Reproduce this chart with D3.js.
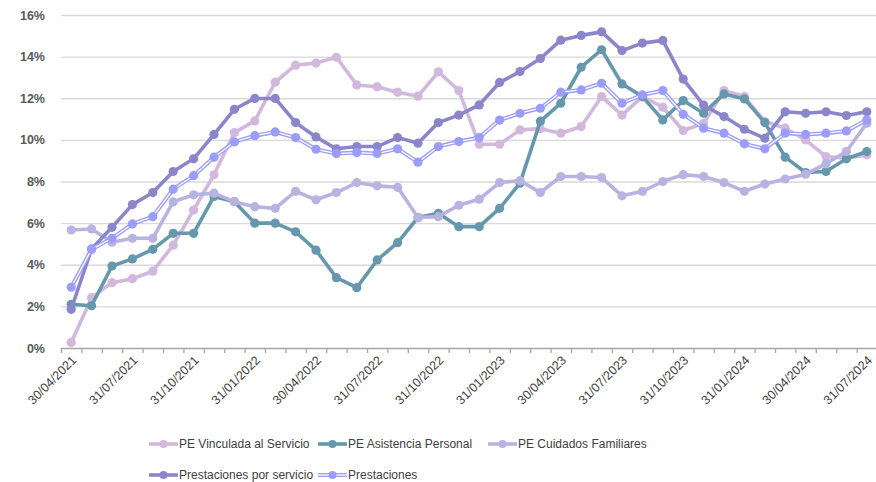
<!DOCTYPE html>
<html><head><meta charset="utf-8">
<script src="https://cdn.jsdelivr.net/npm/d3@7/dist/d3.min.js"></script>
<style>
html,body{margin:0;padding:0;background:#fff;}
svg{display:block;font-family:"Liberation Sans",Arial,sans-serif;}
</style></head>
<body><svg id="c" width="876" height="482"></svg>
<script>
const categories = ["30/04/2021","31/05/2021","30/06/2021","31/07/2021","31/08/2021","30/09/2021","31/10/2021","30/11/2021","31/12/2021",
"31/01/2022","28/02/2022","31/03/2022","30/04/2022","31/05/2022","30/06/2022","31/07/2022","31/08/2022","30/09/2022","31/10/2022","30/11/2022","31/12/2022",
"31/01/2023","28/02/2023","31/03/2023","30/04/2023","31/05/2023","30/06/2023","31/07/2023","31/08/2023","30/09/2023","31/10/2023","30/11/2023","31/12/2023",
"31/01/2024","29/02/2024","31/03/2024","30/04/2024","31/05/2024","30/06/2024","31/07/2024"];
const tickLabels = ["30/04/2021","31/07/2021","31/10/2021","31/01/2022","30/04/2022","31/07/2022","31/10/2022","31/01/2023","30/04/2023","31/07/2023","31/10/2023","31/01/2024","30/04/2024","31/07/2024"];
const yTicks = [0,2,4,6,8,10,12,14,16];

const peVinculada = [0.27,2.42,3.14,3.33,3.69,4.94,6.63,8.32,10.35,10.91,12.77,13.59,13.69,13.97,12.64,12.55,12.29,12.1,13.27,12.37,9.79,9.79,10.48,10.54,10.32,10.64,12.08,11.19,12.08,11.57,10.45,10.8,12.37,12.08,10.88,10.56,10.0,9.2,9.12,9.28];
const peAsistencia = [2.1,2.03,3.94,4.28,4.74,5.51,5.51,7.28,7.03,6.0,6.0,5.58,4.7,3.38,2.9,4.23,5.06,6.27,6.47,5.83,5.83,6.71,7.92,10.9,11.76,13.49,14.33,12.69,12.08,10.96,11.89,11.28,12.21,11.97,10.83,9.17,8.43,8.48,9.09,9.44];
const peCuidados = [5.67,5.72,5.08,5.27,5.27,7.02,7.36,7.44,7.03,6.79,6.71,7.53,7.12,7.47,7.95,7.79,7.72,6.27,6.31,6.86,7.15,7.95,8.04,7.47,8.24,8.24,8.19,7.31,7.53,8.0,8.33,8.24,7.95,7.53,7.88,8.12,8.35,8.85,9.44,10.8];
const prestServicio = [1.86,4.76,5.8,6.89,7.47,8.48,9.09,10.26,11.47,11.99,11.99,10.83,10.14,9.57,9.68,9.68,10.11,9.84,10.83,11.19,11.68,12.76,13.28,13.91,14.79,15.02,15.19,14.29,14.65,14.78,12.92,11.67,11.12,10.51,10.08,11.35,11.28,11.35,11.17,11.35];
const prestaciones = [2.92,4.74,5.27,5.96,6.31,7.63,8.28,9.17,9.9,10.2,10.38,10.11,9.55,9.34,9.39,9.34,9.57,8.93,9.68,9.92,10.11,10.95,11.28,11.52,12.29,12.4,12.72,11.76,12.16,12.37,11.23,10.56,10.32,9.81,9.57,10.32,10.26,10.32,10.43,10.96];

const seriesNames = ["PE Vinculada al Servicio","PE Asistencia Personal","PE Cuidados Familiares","Prestaciones por servicio","Prestaciones"];
const seriesValues = [peVinculada, peAsistencia, peCuidados, prestServicio, prestaciones];
const seriesColors = ["#D3B8DD","#6598AC","#B8B4E1","#8A86C9","#9C9CFB"];
const seriesDouble = [false,false,false,false,true];

const svg = d3.select("#c");
const L = 61, R = 877, T = 15, B = 348;

const x = d3.scaleBand().domain(categories).range([L, R]).padding(0);
const xb = d3.scaleLinear().domain([0, categories.length]).range([L, R]);
const y = d3.scaleLinear().domain([0, 16]).range([B, T]);
const cx = d => x(d) + x.bandwidth() / 2;

// gridlines
const grid = svg.append("g").attr("transform", `translate(${L},0)`)
  .call(d3.axisLeft(y).tickValues(yTicks.slice(1)).tickSize(-(R - L)).tickFormat(""));
grid.select(".domain").remove();
grid.selectAll("line").attr("stroke", "#D9D9D9").attr("stroke-width", 1.3);

// y labels
const ya = svg.append("g").attr("transform", `translate(${L},0)`)
  .call(d3.axisLeft(y).tickValues(yTicks).tickSize(0).tickPadding(16).tickFormat(d => d + "%"));
ya.select(".domain").remove();
ya.selectAll("text").attr("fill", "#595959").attr("font-size", 12.5).attr("font-weight", "bold")
  .attr("font-family", "'Liberation Sans',Arial,sans-serif");

// x tick marks
const xt = svg.append("g").attr("transform", `translate(0,${B})`)
  .call(d3.axisBottom(xb).tickValues(d3.range(0, categories.length + 1)).tickSize(5).tickFormat(""));
xt.select(".domain").attr("stroke", "#A6A6A6").attr("stroke-width", 1.3);
xt.selectAll("line").attr("stroke", "#A6A6A6").attr("stroke-width", 1.3);

// x labels
const xa = svg.append("g").attr("transform", `translate(0,${B})`)
  .call(d3.axisBottom(x).tickValues(tickLabels).tickSize(0).tickPadding(0));
xa.select(".domain").remove();
xa.selectAll("text")
  .attr("fill", "#404040").attr("font-size", 12.5).attr("font-family", "'Liberation Sans',Arial,sans-serif")
  .attr("text-anchor", "end").attr("dy", null).attr("y", 0)
  .attr("transform", "translate(6,13) rotate(-45)");

// series
const line = d3.line().x((d, i) => cx(categories[i])).y(d => y(d));
seriesValues.forEach((vals, k) => {
  const g = svg.append("g");
  g.append("path").datum(vals).attr("d", line).attr("fill", "none")
    .attr("stroke", seriesColors[k]).attr("stroke-width", seriesDouble[k] ? 4 : 3.6).attr("stroke-linejoin", "round");
  if (seriesDouble[k]) {
    g.append("path").datum(vals).attr("d", line).attr("fill", "none")
      .attr("stroke", "#fff").attr("stroke-width", 1.3).attr("stroke-linejoin", "round");
  }
  g.selectAll("circle").data(vals).join("circle")
    .attr("cx", (d, i) => cx(categories[i])).attr("cy", d => y(d)).attr("r", 4.6)
    .attr("fill", seriesColors[k]);
});

// legend
const legendPos = [[149,444],[318,444],[488,444],[149,475],[318,475]];
seriesNames.forEach((name, k) => {
  const [lx, ly] = legendPos[k];
  const g = svg.append("g").attr("transform", `translate(${lx},${ly})`);
  g.append("line").attr("x1", 0).attr("x2", 29).attr("y1", 0).attr("y2", 0)
    .attr("stroke", seriesColors[k]).attr("stroke-width", seriesDouble[k] ? 4 : 3.6);
  if (seriesDouble[k]) g.append("line").attr("x1", 0).attr("x2", 29).attr("y1", 0).attr("y2", 0)
    .attr("stroke", "#fff").attr("stroke-width", 1.3);
  g.append("circle").attr("cx", 14.5).attr("cy", 0).attr("r", 4).attr("fill", seriesColors[k]);
  g.append("text").attr("x", 30).attr("y", 0).attr("dy", "0.35em")
    .attr("font-size", 12).attr("fill", "#404040").text(name);
});
</script></body></html>
